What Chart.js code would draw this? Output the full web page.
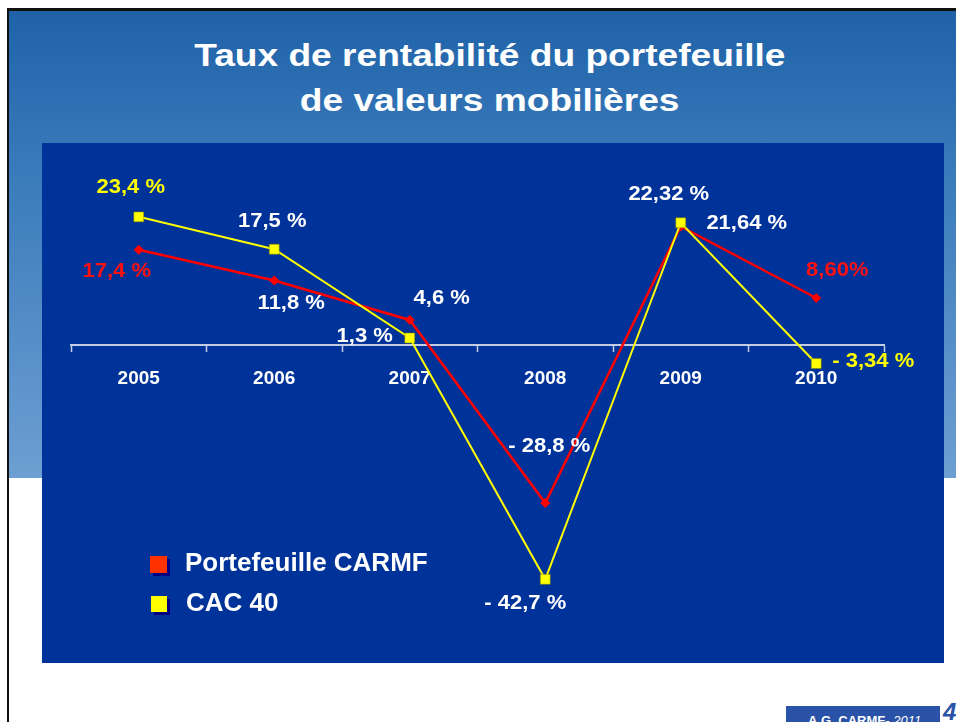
<!DOCTYPE html>
<html>
<head>
<meta charset="utf-8">
<script src="https://cdn.jsdelivr.net/npm/chart.js@4/dist/chart.umd.min.js"></script>
<style>
  html, body { margin: 0; padding: 0; background: #ffffff; }
  body { width: 956px; height: 722px; position: relative; overflow: hidden; font-family: "Liberation Sans", Arial, sans-serif; }
  #slide { position: absolute; left: 7px; top: 8px; width: 960px; height: 730px; border-left: 2px solid #111; border-top: 3px solid #111; background: #fff; }
  #grad { position: absolute; left: 9px; top: 11px; width: 947px; height: 467px; background: linear-gradient(to bottom, #1f62a8 0%, #3a7bbb 35%, #6d9fd2 100%); }
  #title { position: absolute; left: 0; top: 33px; width: 980px; text-align: center; color: #fff; font-weight: bold; font-size: 32px; line-height: 45px; }
  #title span { display: inline-block; transform: scaleX(1.16); transform-origin: center; }
  #panel { position: absolute; left: 42px; top: 143px; width: 902px; height: 520px; background: #003399; }
  #chartBox { position: absolute; left: 42px; top: 143px; width: 902px; height: 520px; }
  #footer { position: absolute; left: 786px; top: 706px; width: 154px; height: 20px; background: #2a52a6; color: #fff; font-size: 13px; line-height: 13px; }
  #footer div { position: absolute; left: 22px; top: 8px; white-space: nowrap; }
  #pg { position: absolute; left: 943px; top: 698px; color: #2a52a6; font-size: 24px; font-weight: bold; font-style: italic; }
</style>
</head>
<body>
<div id="slide"></div>
<div id="grad"></div>
<div id="title"><span>Taux de rentabilité du portefeuille</span><br><span>de valeurs mobilières</span></div>
<div id="panel"></div>
<div id="chartBox"><canvas id="c" width="902" height="520"></canvas></div>
<div id="footer"><div><b>A.G. CARMF</b><i>- 2011</i></div></div>
<div id="pg">4</div>
<script>
// ---- data ----
const years = ['2005', '2006', '2007', '2008', '2009', '2010'];
const carmfValues = [17.4, 11.8, 4.6, -28.8, 21.64, 8.60];
const cacValues = [23.4, 17.5, 1.3, -42.7, 22.32, -3.34];
const carmfLabels = ['17,4 %', '11,8 %', '4,6 %', '- 28,8 %', '21,64 %', '8,60%'];
const cacLabels = ['23,4 %', '17,5 %', '1,3 %', '- 42,7 %', '22,32 %', '- 3,34 %'];
const seriesNames = ['Portefeuille CARMF', 'CAC 40'];

// ---- label styling / placement (offsets from points, px) ----
const carmfLabelColors = ['#ff1010', '#ffffff', '#ffffff', '#ffffff', '#ffffff', '#ff1010'];
const cacLabelColors = ['#ffff00', '#ffffff', '#ffffff', '#ffffff', '#ffffff', '#ffff00'];
const carmfLabelOffsets = [[-22, 22], [17, 23], [32, -21], [4, -57], [66, -3], [21, -28]];
const cacLabelOffsets = [[-8, -29], [-2, -28], [-45, -2], [-20, 24], [-12, -28], [57, -2]];

const pointLabels = {
  id: 'pointLabels',
  afterDatasetsDraw(chart) {
    const ctx = chart.ctx;
    const cfg = [
      { texts: carmfLabels, colors: carmfLabelColors, offs: carmfLabelOffsets },
      { texts: cacLabels, colors: cacLabelColors, offs: cacLabelOffsets }
    ];
    cfg.forEach((c, di) => {
      const meta = chart.getDatasetMeta(di);
      meta.data.forEach((pt, i) => {
        ctx.save();
        ctx.translate(pt.x + c.offs[i][0], pt.y + c.offs[i][1]);
        ctx.scale(1.1, 1);
        ctx.font = 'bold 20px "Liberation Sans", Arial, sans-serif';
        ctx.fillStyle = c.colors[i];
        ctx.textAlign = 'center';
        ctx.textBaseline = 'middle';
        ctx.fillText(c.texts[i], 0, 0);
        ctx.restore();
      });
    });
  }
};

const customLegend = {
  id: 'customLegend',
  afterDraw(chart) {
    const ctx = chart.ctx;
    const items = [
      { ds: 0, box: [108, 413, 17], tx: 143, ty: 421, color: '#ff3300' },
      { ds: 1, box: [109, 453, 16], tx: 144, ty: 461, color: '#ffff00' }
    ];
    items.forEach(it => {
      const [bx, by, s] = it.box;
      ctx.save();
      ctx.fillStyle = '#000080';
      ctx.fillRect(bx + 3, by + 3, s, s);
      ctx.fillStyle = it.color;
      ctx.fillRect(bx, by, s, s);
      ctx.font = 'bold 26px "Liberation Sans", Arial, sans-serif';
      ctx.fillStyle = '#ffffff';
      ctx.textAlign = 'left';
      ctx.textBaseline = 'middle';
      ctx.fillText(chart.data.datasets[it.ds].label, it.tx, it.ty);
      ctx.restore();
    });
  }
};

new Chart(document.getElementById('c'), {
  type: 'line',
  data: {
    labels: years,
    datasets: [
      {
        label: seriesNames[0],
        data: carmfValues,
        borderColor: '#ff0000',
        backgroundColor: '#ff0000',
        borderWidth: 2.5,
        pointStyle: 'rectRot',
        pointRadius: 5,
        pointBorderWidth: 0,
        pointBackgroundColor: '#ff0000',
        tension: 0,
        order: 1
      },
      {
        label: seriesNames[1],
        data: cacValues,
        borderColor: '#ffff00',
        backgroundColor: '#ffff00',
        borderWidth: 2,
        pointStyle: 'rect',
        pointRadius: 7,
        pointBorderWidth: 0.5,
        pointBorderColor: '#808000',
        pointBackgroundColor: '#ffff00',
        tension: 0,
        order: 0
      }
    ]
  },
  options: {
    responsive: false,
    animation: false,
    events: [],
    layout: { padding: { left: 29, right: 60, top: 0, bottom: 0 } },
    plugins: { legend: { display: false }, tooltip: { enabled: false }, title: { display: false } },
    scales: {
      y: { display: false, min: -56.6, max: 35.5 },
      x: {
        type: 'category',
        offset: true,
        position: { y: 0 },
        border: { display: true, color: '#c4cce4', width: 2 },
        grid: { display: true, offset: true, drawOnChartArea: false, drawTicks: true, tickLength: 6, tickWidth: 1.5, tickColor: '#c4cce4' },
        ticks: { color: '#ffffff', font: { family: '"Liberation Sans", Arial, sans-serif', weight: 'bold', size: 19 }, padding: 16, maxRotation: 0 }
      }
    }
  },
  plugins: [pointLabels, customLegend]
});
</script>
</body>
</html>
